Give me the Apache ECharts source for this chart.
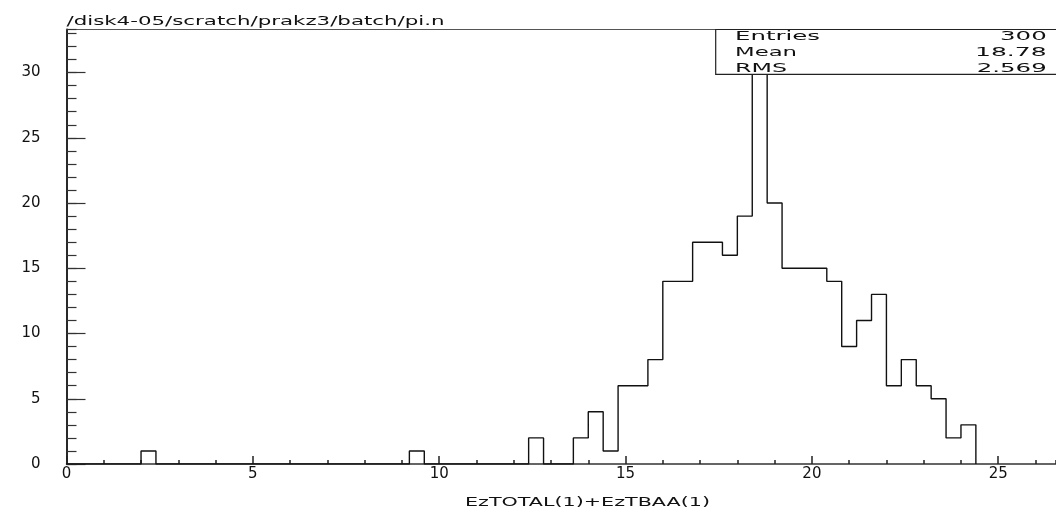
<!DOCTYPE html>
<html>
<head>
<meta charset="utf-8">
<script src="https://cdn.jsdelivr.net/npm/echarts@6/dist/echarts.min.js"></script>
<style>
html,body{margin:0;padding:0;background:#ffffff;}
#chart{width:1056px;height:510px;}
</style>
</head>
<body>
<div id="chart"></div>
<script>
// ---- data ----
const binStart = 0;
const binWidth = 0.4;
const counts = [0,0,0,0,0, 1,0,0,0,0, 0,0,0,0,0, 0,0,0,0,0, 0,0,0,1,0,
                0,0,0,0,0, 0,2,0,0,2, 4,1,6,6,8, 14,14,17,17,16,
                19,30,20,15,15, 15,14,9,11,13, 6,8,6,5,2, 3];
const titleText = '/disk4-05/scratch/prakz3/batch/pi.n';
const xTitle = 'EzTOTAL(1)+EzTBAA(1)';
const statLabels = ['Entries', 'Mean', 'RMS'];
const statValues = ['300', '18.78', '2.569'];
const xRange = [0, 26.55];
const yRange = [0, 33.3];

// ---- build step outline ----
const points = [];
for (let i = 0; i < counts.length; i++) {
  points.push([binStart + i * binWidth, counts[i]]);
}
points.push([binStart + counts.length * binWidth, 0]);

const FONT = 'DejaVu Sans, sans-serif';
const cv = document.createElement('canvas').getContext('2d');
function fit(text, size, target) {
  cv.font = size + 'px ' + FONT;
  return target / cv.measureText(text).width;
}

const statLeftTargets = [85, 62, 52];
const statRightTargets = [46.7, 71.7, 70];
const statY = [36.7, 53, 68.3];

const graphics = [];
graphics.push({
  type: 'text', x: 66.5, y: 22, z: 100,
  scaleX: fit(titleText, 12, 378),
  style: { text: titleText, font: '12px ' + FONT, fill: '#111', textAlign: 'left', textVerticalAlign: 'middle' }
});
graphics.push({
  type: 'rect', z: 100,
  shape: { x: 715.7, y: 29.5, width: 345, height: 44.8 },
  style: { fill: '#ffffff', stroke: '#222', lineWidth: 1.2 }
});
for (let i = 0; i < statLabels.length; i++) {
  graphics.push({
    type: 'text', x: 735, y: statY[i], z: 101,
    scaleX: fit(statLabels[i], 13, statLeftTargets[i]),
    style: { text: statLabels[i], font: '13px ' + FONT, fill: '#111', textAlign: 'left', textVerticalAlign: 'middle' }
  });
  graphics.push({
    type: 'text', x: 1046.7, y: statY[i], z: 101,
    scaleX: fit(statValues[i], 13, statRightTargets[i]),
    style: { text: statValues[i], font: '13px ' + FONT, fill: '#111', textAlign: 'right', textVerticalAlign: 'middle' }
  });
}
graphics.push({
  type: 'text', x: 587.5, y: 502.5, z: 100,
  scaleX: fit(xTitle, 13, 245),
  style: { text: xTitle, font: '13px ' + FONT, fill: '#111', textAlign: 'center', textVerticalAlign: 'middle' }
});

const labelStyle = { color: '#111', fontSize: 15, fontFamily: FONT };

const chart = echarts.init(document.getElementById('chart'), null, { renderer: 'canvas' });
chart.setOption({
  animation: false,
  backgroundColor: '#ffffff',
  grid: { left: 66.5, right: 0, top: 29.5, bottom: 46, containLabel: false },
  xAxis: [
    {
      type: 'value', position: 'bottom', min: xRange[0], max: xRange[1], interval: 5,
      axisLine: { show: true, lineStyle: { color: '#333', width: 1.5 } },
      axisTick: { show: true, inside: true, length: 8, lineStyle: { color: '#222', width: 1.5 } },
      axisLabel: Object.assign({ show: true, margin: 3, showMaxLabel: false }, labelStyle),
      splitLine: { show: false }
    },
    {
      type: 'value', position: 'bottom', min: xRange[0], max: xRange[1], interval: 1,
      axisLine: { show: false },
      axisTick: { show: true, inside: true, length: 4, lineStyle: { color: '#222', width: 1.5 } },
      axisLabel: { show: false },
      splitLine: { show: false }
    },
    {
      type: 'value', position: 'top', min: xRange[0], max: xRange[1],
      axisLine: { show: true, lineStyle: { color: '#555', width: 1.2 } },
      axisTick: { show: false }, axisLabel: { show: false }, splitLine: { show: false }
    }
  ],
  yAxis: [
    {
      type: 'value', position: 'left', min: yRange[0], max: yRange[1], interval: 5,
      axisLine: { show: true, lineStyle: { color: '#111', width: 1.8 } },
      axisTick: { show: true, inside: true, length: 19, lineStyle: { color: '#333', width: 1.2 } },
      axisLabel: Object.assign({ show: true, margin: 26, showMaxLabel: false }, labelStyle),
      splitLine: { show: false }
    },
    {
      type: 'value', position: 'left', min: yRange[0], max: yRange[1], interval: 1,
      axisLine: { show: false },
      axisTick: { show: true, inside: true, length: 10, lineStyle: { color: '#333', width: 1.2 } },
      axisLabel: { show: false },
      splitLine: { show: false }
    }
  ],
  series: [{
    type: 'line', xAxisIndex: 0, yAxisIndex: 0,
    step: 'end', data: points, showSymbol: false, symbol: 'none',
    lineStyle: { color: '#111', width: 1.4 },
    z: 3
  }],
  graphic: graphics
});
</script>
</body>
</html>
